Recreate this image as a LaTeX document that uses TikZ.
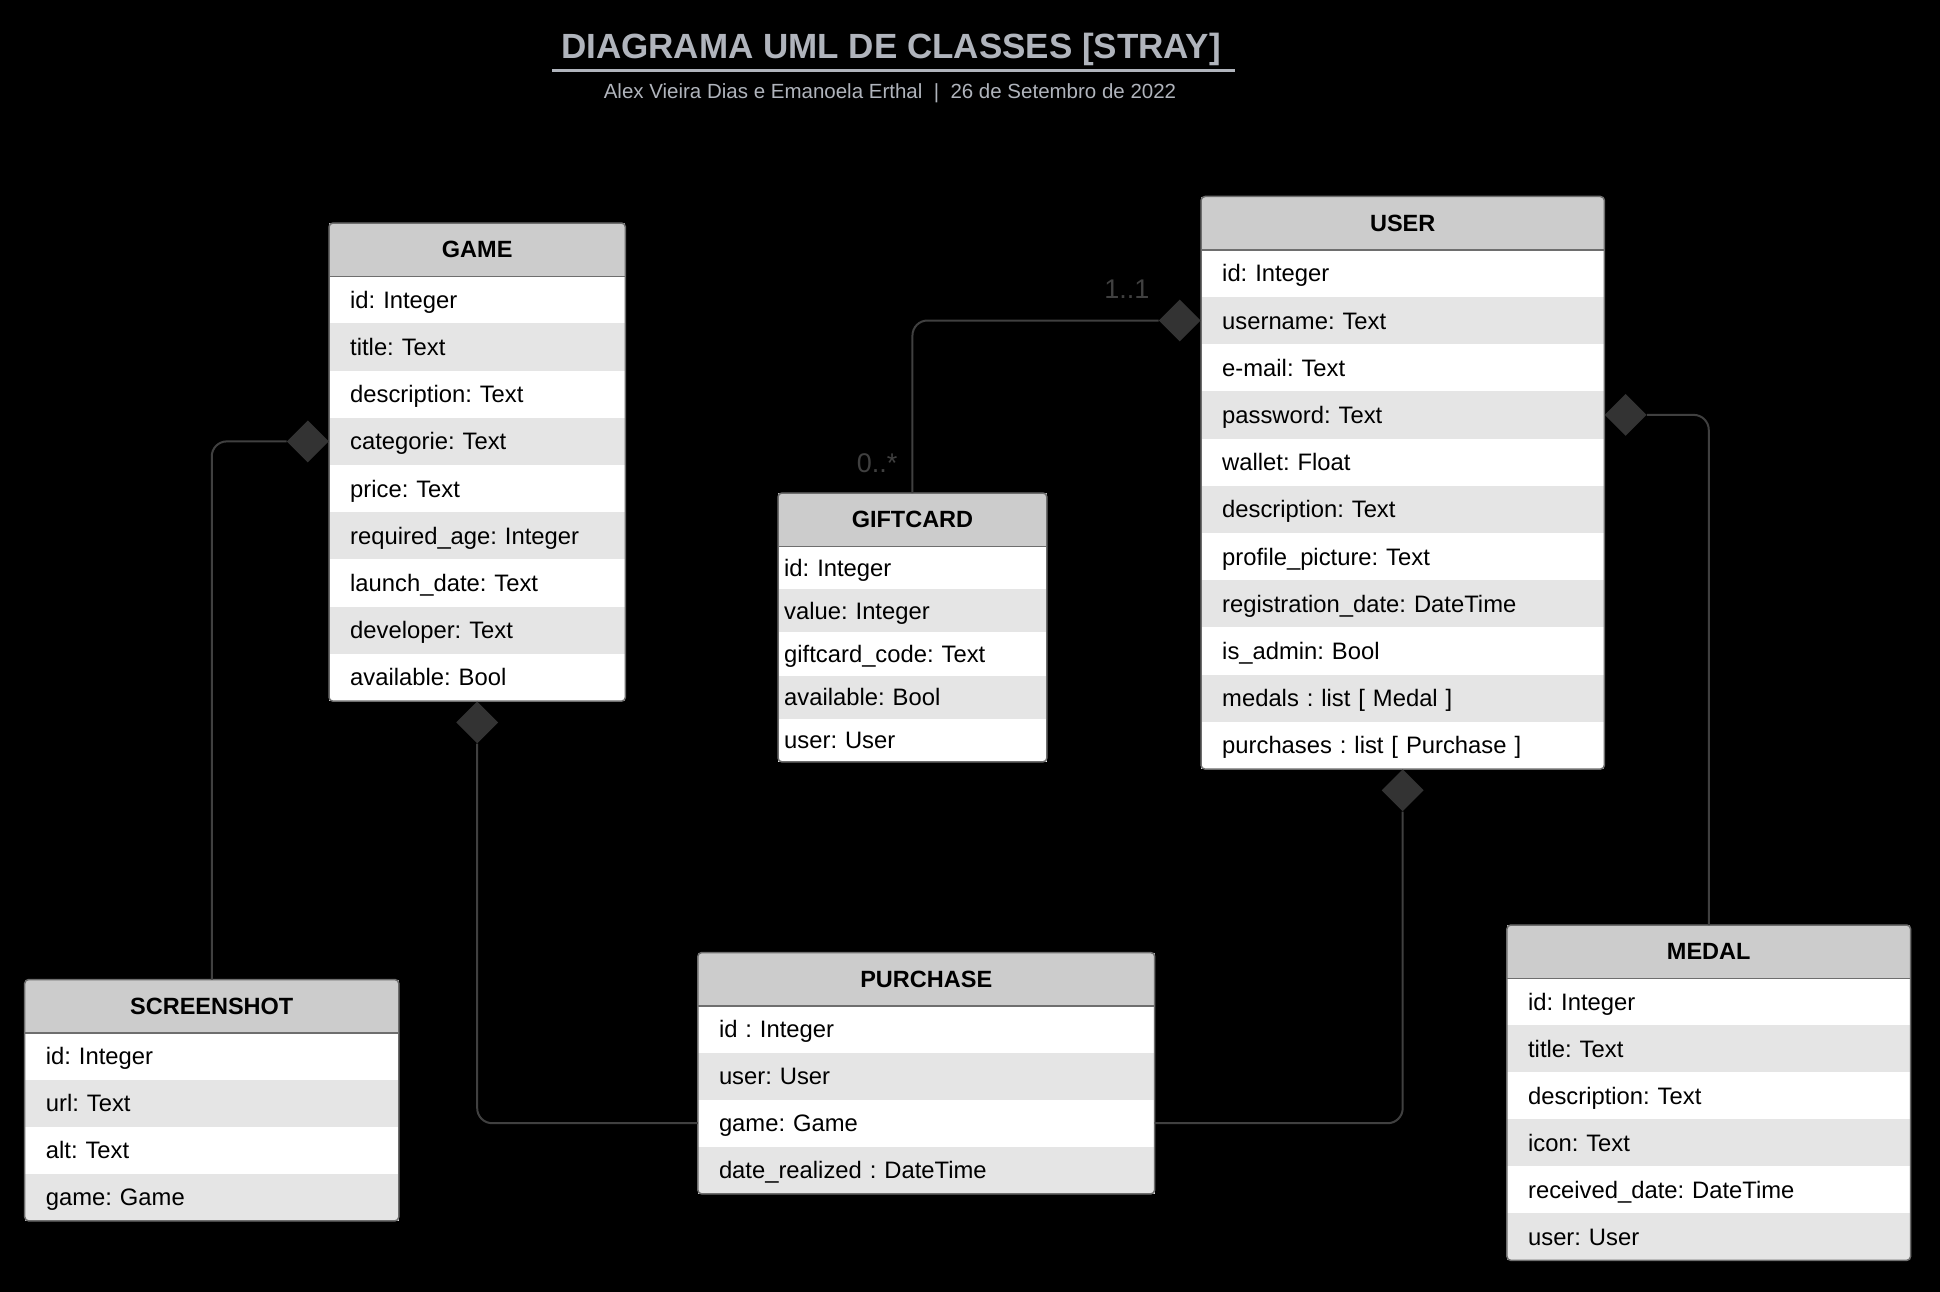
\documentclass[tikz,border=0pt]{standalone}
\usepackage{fontspec}
\setmainfont{Liberation Sans}
\usetikzlibrary{shapes.geometric,positioning}
\definecolor{titlegray}{RGB}{176,180,188}
\definecolor{hdrgray}{RGB}{204,204,204}
\definecolor{framegray}{RGB}{110,110,110}
\definecolor{linkgray}{RGB}{64,64,64}
\definecolor{dmdgray}{RGB}{51,51,51}
\frenchspacing

\begin{document}
\begin{tikzpicture}[x=1pt,y=-1pt,
    hdr/.style={fill=hdrgray,anchor=north west,inner sep=0pt,minimum height=53pt,font=\fontsize{23.5}{28}\selectfont\bfseries},
    attr/.style={anchor=north west,inner ysep=0pt,inner xsep=21pt,align=left,text height=17pt,text depth=0pt,font=\fontsize{23.8}{28}\selectfont},
    boxline/.style={draw=framegray,line width=1.5pt,rounded corners=4pt},
    dmd/.style={diamond,fill=dmdgray,inner sep=0pt,minimum width=42pt,minimum height=42pt},
    assoc/.style={draw=linkgray,line width=2pt,rounded corners=15pt},
    mult/.style={text=linkgray,anchor=base east,font=\fontsize{27}{30}\selectfont}]
    \fill[black] (0,0) rectangle (1940,1292);
    \useasboundingbox (0,0) rectangle (1940,1292);

    % title
    \node[text=titlegray,anchor=base,font=\fontsize{35}{40}\selectfont\bfseries] (title) at (891,59) {DIAGRAMA UML DE CLASSES [STRAY]};
    \draw[titlegray,line width=3pt] (552,71) -- (1235,71);
    \node[text=titlegray,anchor=base,font=\fontsize{20.5}{24}\selectfont] (sub) at (890,99) {Alex Vieira Dias e Emanoela Erthal\ \ |\ \ 26 de Setembro de 2022};

    % GAME
    \node[hdr,minimum width=296pt] (game) at (329,223) {GAME};
    \foreach \a [count=\i,evaluate=\i as \s using int(10*(1-\i+2*floor(\i/2)))] in {id: Integer,title: Text,description: Text,categorie: Text,price: Text,required\_age: Integer,launch\_date: Text,developer: Text,available: Bool}
        \node[attr,fill=black!\s!white,text width=254pt,minimum height=47.2pt] (game-\i) at (329,{276+(\i-1)*47.2}) {\a};
    \draw[boxline] (game.north west) rectangle (game-9.south east);
    \draw[framegray,line width=1.5pt] (game.south west) -- (game.south east);

    % USER
    \node[hdr,minimum width=403pt] (user) at (1201,196.5) {USER};
    \foreach \a [count=\i,evaluate=\i as \s using int(10*(1-\i+2*floor(\i/2)))] in {id: Integer,username: Text,e-mail: Text,password: Text,wallet: Float,description: Text,profile\_picture: Text,registration\_date: DateTime,is\_admin: Bool,medals : list [ Medal ],purchases : list [ Purchase ]}
        \node[attr,fill=black!\s!white,text width=361pt,minimum height=47.2pt] (user-\i) at (1201,{249.5+(\i-1)*47.2}) {\a};
    \draw[boxline] (user.north west) rectangle (user-11.south east);
    \draw[framegray,line width=1.5pt] (user.south west) -- (user.south east);

    % GIFTCARD
    \node[hdr,minimum width=268.5pt] (gift) at (778,493) {GIFTCARD};
    \foreach \a [count=\i,evaluate=\i as \s using int(10*(1-\i+2*floor(\i/2)))] in {id: Integer,value: Integer,giftcard\_code: Text,available: Bool,user: User}
        \node[attr,inner xsep=6pt,fill=black!\s!white,text width=256.5pt,minimum height=43.1pt] (gift-\i) at (778,{546+(\i-1)*43.1}) {\a};
    \draw[boxline] (gift.north west) rectangle (gift-5.south east);
    \draw[framegray,line width=1.5pt] (gift.south west) -- (gift.south east);

    % SCREENSHOT
    \node[hdr,minimum width=373.7pt] (shot) at (24.7,979.5) {SCREENSHOT};
    \foreach \a [count=\i,evaluate=\i as \s using int(10*(1-\i+2*floor(\i/2)))] in {id: Integer,url: Text,alt: Text,game: Game}
        \node[attr,fill=black!\s!white,text width=331.7pt,minimum height=47pt] (shot-\i) at (24.7,{1032.5+(\i-1)*47}) {\a};
    \draw[boxline] (shot.north west) rectangle (shot-4.south east);
    \draw[framegray,line width=1.5pt] (shot.south west) -- (shot.south east);

    % PURCHASE
    \node[hdr,minimum width=456.5pt] (buy) at (697.8,952.5) {PURCHASE};
    \foreach \a [count=\i,evaluate=\i as \s using int(10*(1-\i+2*floor(\i/2)))] in {id : Integer,user: User,game: Game,date\_realized : DateTime}
        \node[attr,fill=black!\s!white,text width=414.5pt,minimum height=47pt] (buy-\i) at (697.8,{1005.5+(\i-1)*47}) {\a};
    \draw[boxline] (buy.north west) rectangle (buy-4.south east);
    \draw[framegray,line width=1.5pt] (buy.south west) -- (buy.south east);

    % MEDAL
    \node[hdr,minimum width=403.3pt] (medal) at (1506.9,925) {MEDAL};
    \foreach \a [count=\i,evaluate=\i as \s using int(10*(1-\i+2*floor(\i/2)))] in {id: Integer,title: Text,description: Text,icon: Text,received\_date: DateTime,user: User}
        \node[attr,fill=black!\s!white,text width=361.3pt,minimum height=47pt] (medal-\i) at (1506.9,{978+(\i-1)*47}) {\a};
    \draw[boxline] (medal.north west) rectangle (medal-6.south east);
    \draw[framegray,line width=1.5pt] (medal.south west) -- (medal.south east);

    % composition diamonds
    \node[dmd,anchor=east] (dshot) at (game-4.west) {};
    \node[dmd,anchor=north] (dbuyg) at (game-9.south) {};
    \node[dmd,anchor=north] (dbuyu) at (user-11.south) {};
    \node[dmd,anchor=east] (dgift) at (user-2.west) {};
    \node[dmd,anchor=west] (dmedal) at (user-4.east) {};

    % associations
    \draw[assoc] (dshot.west) -| (shot.north);
    \draw[assoc] (dbuyg.south) |- (buy-3.west);
    \draw[assoc] (dbuyu.south) |- (buy-3.east);
    \draw[assoc] (dgift.west) -| (gift.north);
    \draw[assoc] (dmedal.east) -| (medal.north);

    \node[mult] (m11) at (1153,298) {1..1};
    \node[mult] (m0n) at (901,472) {0..*};
\end{tikzpicture}
\end{document}
